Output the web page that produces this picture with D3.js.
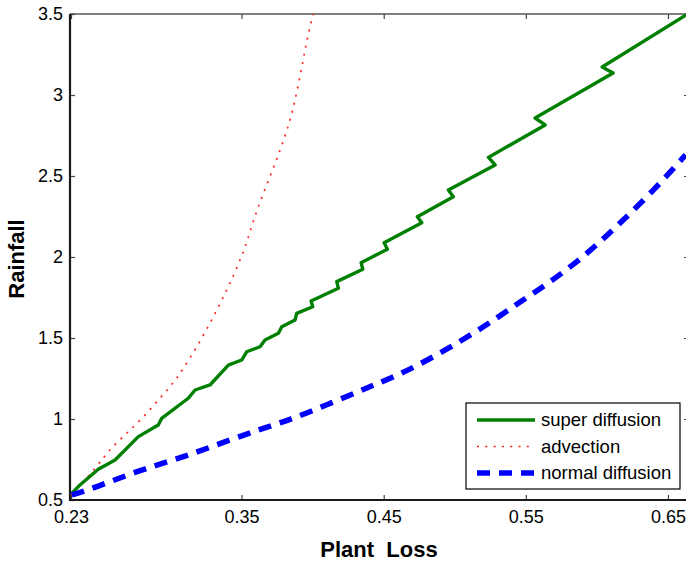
<!DOCTYPE html>
<html>
<head>
<meta charset="utf-8">
<script src="https://cdn.jsdelivr.net/npm/d3@7"></script>
<style>
  body { margin: 0; background: #fff; }
  svg { display: block; }
  text { font-family: "Liberation Sans", Arial, Helvetica, sans-serif; }
</style>
</head>
<body>
<div id="container"></div>
<script>
let w = 686;
let h = 561;

// DATA
let xTicks = [0.23, 0.35, 0.45, 0.55, 0.65];
let yTicks = [0.5, 1, 1.5, 2, 2.5, 3, 3.5];

let superX = [0.2305, 0.2363, 0.2492, 0.2610, 0.2774, 0.2914, 0.2938, 0.3125, 0.3173, 0.3278,
  0.3407, 0.3501, 0.3536, 0.3630, 0.3665, 0.3759, 0.3783, 0.3876, 0.3888, 0.4001, 0.3989,
  0.4181, 0.4170, 0.4353, 0.4341, 0.4526, 0.4503, 0.4768, 0.4737, 0.4990, 0.4955, 0.5284,
  0.5237, 0.5636, 0.5565, 0.6114, 0.6037, 0.6628];
let superY = [0.541, 0.593, 0.690, 0.747, 0.891, 0.963, 1.004, 1.128, 1.179, 1.210,
  1.333, 1.364, 1.415, 1.446, 1.488, 1.529, 1.570, 1.611, 1.652, 1.693, 1.728,
  1.807, 1.848, 1.924, 1.965, 2.048, 2.088, 2.212, 2.249, 2.372, 2.414, 2.568,
  2.615, 2.815, 2.858, 3.136, 3.173, 3.494];

let advX = [0.2300, 0.2469, 0.2574, 0.2692, 0.2809, 0.2926, 0.3020, 0.3090, 0.3185, 0.3301,
  0.3419, 0.3525, 0.3618, 0.3771, 0.3876, 0.3947, 0.4003];
let advY = [0.531, 0.696, 0.809, 0.912, 1.014, 1.128, 1.225, 1.313, 1.446, 1.631,
  1.840, 2.064, 2.310, 2.660, 2.969, 3.278, 3.500];

let normX = [0.2305, 0.2492, 0.2786, 0.3125, 0.3536, 0.3841, 0.4135, 0.4427, 0.4733, 0.5131,
  0.5413, 0.5671, 0.5929, 0.6163, 0.6398, 0.6624];
let normY = [0.531, 0.586, 0.681, 0.778, 0.907, 0.998, 1.101, 1.208, 1.330, 1.530,
  1.694, 1.848, 2.023, 2.210, 2.414, 2.630];

let seriesNames = ["super diffusion", "advection", "normal diffusion"];

let viz = d3.select("#container").append("svg")
    .attr("width", w)
    .attr("height", h);

// SCALES
let xScale = d3.scaleLinear().domain([0.23, 0.6655]).range([71, 690]);
let yScale = d3.scaleLinear().domain([0.5, 3.5]).range([500, 14]);

let x0 = 70, x1 = 690, y0 = 500, y1 = 14;

// box
viz.append("line").attr("x1", x0).attr("x2", x1).attr("y1", y1).attr("y2", y1)
  .attr("stroke", "#000").attr("stroke-width", 1.2);
viz.append("line").attr("x1", x1 - 1).attr("x2", x1 - 1).attr("y1", y1).attr("y2", y0)
  .attr("stroke", "#000").attr("stroke-width", 1.2);

// AXES (ticks pointing inside)
let bottomAxis = d3.axisBottom(xScale).tickValues(xTicks).tickSize(-5).tickPadding(10)
  .tickFormat(d3.format(".2f"));
let topAxis = d3.axisTop(xScale).tickValues(xTicks).tickSize(-5).tickFormat("");
let leftAxis = d3.axisLeft(yScale).tickValues(yTicks).tickSize(-5).tickPadding(7)
  .tickFormat(function(d){ return String(d); });
let rightAxis = d3.axisRight(yScale).tickValues(yTicks).tickSize(-5).tickFormat("");

function styleAxis(g) {
  g.select(".domain").remove();
  g.selectAll(".tick line").attr("stroke", "#444").attr("stroke-width", 1.2);
  g.selectAll(".tick text").attr("fill", "#000").style("font-size", "18px");
}

viz.append("g").attr("transform", "translate(0," + y0 + ")").call(bottomAxis).call(styleAxis);
viz.append("g").attr("transform", "translate(0," + y1 + ")").call(topAxis).call(styleAxis);
viz.append("g").attr("transform", "translate(" + x0 + ",0)").call(leftAxis).call(styleAxis);
viz.append("g").attr("transform", "translate(" + (x1 - 1) + ",0)").call(rightAxis).call(styleAxis);

// thick left & bottom axis lines
viz.append("line").attr("x1", x0).attr("x2", x0).attr("y1", y1).attr("y2", y0 + 1)
  .attr("stroke", "#1a1a1a").attr("stroke-width", 2.2);
viz.append("line").attr("x1", x0 - 1).attr("x2", x1).attr("y1", y0).attr("y2", y0)
  .attr("stroke", "#1a1a1a").attr("stroke-width", 2.2);

// LINES
let lineMaker = d3.line()
  .x(function(d){ return xScale(d[0]); })
  .y(function(d){ return yScale(d[1]); });
let smoothLine = d3.line().curve(d3.curveNatural)
  .x(function(d){ return xScale(d[0]); })
  .y(function(d){ return yScale(d[1]); });

let plot = viz.append("g");

plot.append("path")
  .datum(advX.map(function(d,i){ return [d, advY[i]]; }))
  .attr("d", smoothLine)
  .attr("fill", "none")
  .attr("stroke", "#ff2020")
  .attr("stroke-width", 1.7)
  .attr("stroke-dasharray", "2,6.3");

plot.append("path")
  .datum(superX.map(function(d,i){ return [d, superY[i]]; }))
  .attr("d", lineMaker)
  .attr("fill", "none")
  .attr("stroke", "#008000")
  .attr("stroke-width", 3.4)
  .attr("stroke-linejoin", "round");

plot.append("path")
  .datum(normX.map(function(d,i){ return [d, normY[i]]; }))
  .attr("d", smoothLine)
  .attr("fill", "none")
  .attr("stroke", "#0000ff")
  .attr("stroke-width", 5.5)
  .attr("stroke-dasharray", "13,9");

// AXIS LABELS
viz.append("text")
  .attr("x", 379).attr("y", 557)
  .attr("text-anchor", "middle")
  .style("font-size", "22px").style("font-weight", "bold")
  .style("white-space", "pre")
  .attr("xml:space", "preserve")
  .text("Plant  Loss");

viz.append("text")
  .attr("transform", "translate(24,259) rotate(-90)")
  .attr("text-anchor", "middle")
  .style("font-size", "22px").style("font-weight", "bold")
  .text("Rainfall");

// LEGEND
let legend = viz.append("g");
legend.append("rect")
  .attr("x", 466).attr("y", 403).attr("width", 214).attr("height", 86)
  .attr("fill", "#fff").attr("stroke", "#000").attr("stroke-width", 1.2);

let legendStyles = [
  { color: "#008000", width: 3.4, dash: null },
  { color: "#ff2020", width: 1.7, dash: "2,6.3" },
  { color: "#0000ff", width: 5.5, dash: "13,9" }
];

seriesNames.forEach(function(name, i){
  let yy = 420 + i * 26.5;
  let s = legendStyles[i];
  let ln = legend.append("line")
    .attr("x1", 477).attr("x2", 535).attr("y1", yy).attr("y2", yy)
    .attr("stroke", s.color).attr("stroke-width", s.width);
  if (s.dash) ln.attr("stroke-dasharray", s.dash);
  legend.append("text")
    .attr("x", 541).attr("y", yy + 6)
    .style("font-size", "18.5px")
    .text(name);
});
</script>
</body>
</html>
